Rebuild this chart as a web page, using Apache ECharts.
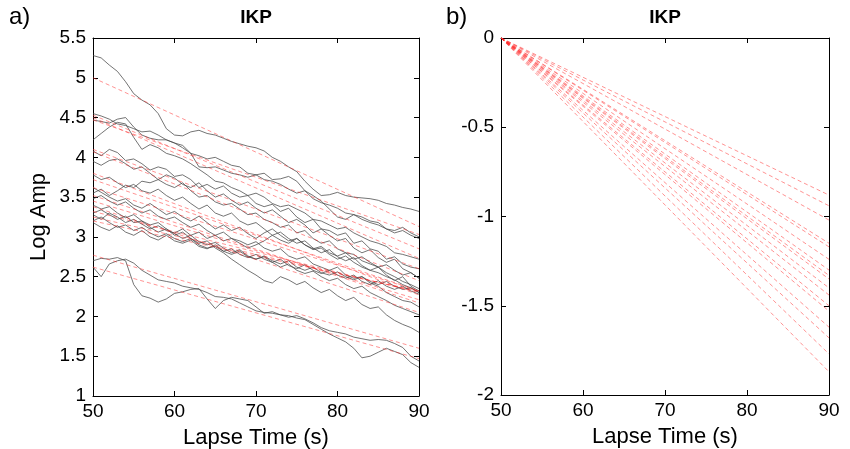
<!DOCTYPE html>
<html>
<head>
<meta charset="utf-8">
<script src="https://cdn.jsdelivr.net/npm/echarts@6/dist/echarts.min.js"></script>
<style>
html,body{margin:0;padding:0;background:#fff;}
#c{width:850px;height:449px;}
</style>
</head>
<body>
<div id="c"></div>
<script>
// Lapse time samples (s)
const times = [50,51,52,53,54,55,56,57,58,59,60,61,62,63,64,65,66,67,68,69,70,71,72,73,74,75,76,77,78,79,80,81,82,83,84,85,86,87,88,89,90];

// Observed log-amplitude traces (black), one value per second
const trace1 = [5.28,5.25,5.16,5.08,4.95,4.80,4.72,4.66,4.55,4.36, 4.28,4.27,4.32,4.34,4.30,4.28,4.24,4.20,4.17,4.14, 4.12,4.08,4.00,3.95,3.88,3.82,3.70,3.60,3.52,3.53, 3.56,3.52,3.50,3.49,3.48,3.46,3.42,3.40,3.37,3.35, 3.32];
const trace2 = [4.47,4.45,4.43,4.48,4.50,4.38,4.28,4.24,4.22,4.22, 4.18,4.15,4.05,3.88,3.87,3.88,3.84,3.80,3.78,3.75, 3.78,3.80,3.72,3.73,3.76,3.70,3.58,3.48,3.43,3.40, 3.36,3.30,3.28,3.22,3.18,3.15,3.10,3.05,3.08,3.02, 2.98];
const trace3 = [4.22,4.30,4.38,4.44,4.42,4.25,4.10,4.16,4.12,4.05, 4.02,3.98,3.92,3.85,3.78,3.70,3.68,3.62,3.58,3.52, 3.55,3.50,3.42,3.38,3.40,3.35,3.30,3.22,3.20,3.15, 3.10,3.12,3.05,3.00,2.95,2.92,2.88,2.80,2.78,2.75, 2.72];
const trace4 = [4.55,4.52,4.48,4.42,4.40,4.36,4.32,4.33,4.28,4.22, 4.18,4.12,4.05,4.02,3.98,4.00,3.95,3.90,3.88,3.80, 3.78,3.72,3.70,3.66,3.60,3.55,3.58,3.52,3.45,3.35, 3.25,3.22,3.28,3.25,3.20,3.18,3.10,3.08,3.12,3.05, 3.00];
const trace5 = [4.08,4.02,4.10,4.06,3.96,3.98,3.92,3.84,3.88,3.85, 3.76,3.78,3.72,3.62,3.66,3.60,3.64,3.55,3.50,3.52, 3.42,3.38,3.41,3.32,3.36,3.25,3.18,3.22,3.10,3.08, 3.02,3.05,2.92,2.95,2.85,2.82,2.72,2.75,2.66,2.62, 2.60];
const trace6 = [3.95,3.90,3.96,3.98,3.92,3.85,3.88,3.80,3.72,3.78, 3.74,3.66,3.62,3.68,3.58,3.50,3.54,3.46,3.40,3.44, 3.36,3.30,3.34,3.26,3.18,3.22,3.15,3.05,3.10,3.02, 2.95,2.98,2.86,2.80,2.84,2.74,2.68,2.72,2.60,2.55, 2.48];
const trace7 = [3.78,3.72,3.75,3.68,3.62,3.66,3.58,3.55,3.60,3.52, 3.46,3.50,3.42,3.35,3.40,3.30,3.26,3.30,3.20,3.15, 3.18,3.10,3.02,3.06,2.98,2.92,2.95,2.86,2.80,2.84, 2.75,2.70,2.74,2.64,2.58,2.62,2.52,2.45,2.50,2.38, 2.32];
const trace8 = [3.55,3.60,3.52,3.58,3.65,3.62,3.70,3.68,3.72,3.66, 3.62,3.68,3.58,3.50,3.52,3.44,3.40,3.42,3.35,3.28, 3.30,3.22,3.18,3.12,3.15,3.05,3.08,2.98,2.92,2.95, 2.85,2.80,2.78,2.70,2.66,2.62,2.55,2.50,2.44,2.40, 2.35];
const trace9 = [3.62,3.56,3.50,3.45,3.48,3.40,3.36,3.42,3.35,3.28, 3.32,3.25,3.20,3.26,3.18,3.10,3.15,3.08,3.12,3.04, 2.98,3.05,3.10,3.02,2.95,2.98,2.90,2.84,2.86,2.78, 2.72,2.76,2.68,2.62,2.58,2.55,2.50,2.46,2.40,2.36, 2.30];
const trace10 = [3.48,3.52,3.45,3.40,3.44,3.36,3.30,3.34,3.26,3.22, 3.25,3.18,3.12,3.16,3.08,3.02,3.06,2.98,2.95,2.90, 2.94,2.86,2.82,2.85,2.76,2.72,2.75,2.66,2.62,2.58, 2.62,2.52,2.48,2.50,2.42,2.38,2.30,2.25,2.20,2.18, 2.12];
const trace11 = [3.40,3.35,3.38,3.30,3.24,3.28,3.20,3.15,3.18,3.10, 3.02,3.06,2.98,2.92,2.95,2.86,2.80,2.72,2.65,2.58, 2.52,2.45,2.42,2.50,2.46,2.40,2.44,2.36,2.30,2.34, 2.26,2.20,2.24,2.15,2.10,2.12,2.02,1.95,1.90,1.86, 1.80];
const trace12 = [3.30,3.34,3.28,3.22,3.26,3.18,3.20,3.12,3.06,3.10, 3.04,2.98,3.02,2.94,2.90,2.93,2.86,2.80,2.84,2.76, 2.72,2.75,2.68,2.62,2.66,2.58,2.54,2.57,2.50,2.45, 2.48,2.40,2.35,2.38,2.30,2.25,2.20,2.14,2.10,2.06, 2.02];
const trace13 = [3.28,3.22,3.30,3.25,3.18,3.22,3.16,3.10,3.14,3.08, 3.05,3.10,3.02,3.06,2.98,3.02,2.95,2.98,2.92,2.86, 2.90,2.95,3.02,2.96,2.92,2.98,2.90,2.85,2.88,2.80, 2.76,2.80,2.72,2.75,2.68,2.62,2.65,2.58,2.52,2.55, 2.48];
const trace14 = [3.20,3.25,3.18,3.12,3.15,3.08,3.12,3.05,3.00,3.04, 2.98,2.94,2.98,2.90,2.86,2.88,2.82,2.85,2.78,2.74, 2.78,2.72,2.68,2.72,2.64,2.60,2.65,2.58,2.54,2.58, 2.52,2.48,2.52,2.44,2.40,2.45,2.38,2.34,2.38,2.32, 2.28];
const trace15 = [3.18,3.12,3.08,3.14,3.06,3.02,3.08,3.00,2.96,3.02, 2.95,2.92,2.96,2.88,2.85,2.90,2.82,2.78,2.82,2.75, 2.72,2.76,2.70,2.66,2.70,2.62,2.58,2.62,2.55,2.52, 2.56,2.50,2.46,2.50,2.44,2.40,2.44,2.38,2.34,2.36, 2.30];
const trace16 = [2.70,2.73,2.72,2.74,2.70,2.40,2.26,2.23,2.18,2.22, 2.29,2.31,2.34,2.35,2.22,2.10,2.20,2.24,2.22,2.20, 2.12,2.04,2.06,2.02,1.99,2.01,1.97,1.92,1.86,1.82, 1.80,1.78,1.74,1.72,1.70,1.71,1.70,1.66,1.61,1.50, 1.44];
const trace17 = [2.62,2.50,2.66,2.70,2.72,2.67,2.58,2.52,2.46,2.44, 2.42,2.38,2.36,2.34,2.30,2.25,2.24,2.22,2.17,2.12, 2.07,2.05,2.04,2.02,2.01,1.98,1.96,1.90,1.84,1.78, 1.73,1.68,1.60,1.48,1.50,1.55,1.60,1.56,1.52,1.42, 1.36];
const traces = [trace1,trace2,trace3,trace4,trace5,trace6,trace7,trace8,trace9,trace10,trace11,trace12,trace13,trace14,trace15,trace16,trace17];

// Linear fits (red dashed): value at 50 s and total drop over 50-90 s
const fitStart = [5.00,4.53,4.50,4.47,4.10,4.07,3.80,3.72,3.62,3.52,3.45,3.38,3.32,3.25,3.20,2.77,2.62];
const fitDrop  = [1.87,1.68,1.77,1.44,1.50,1.62,1.53,1.40,1.30,1.35,1.24,1.33,1.02,0.94,0.88,1.17,1.15];

// Axis ticks
const xTicks = {min:50, max:90, interval:10};
const yTicksA = {min:1, max:5.5, interval:0.5};
const yTicksB = {min:-2, max:0, interval:0.5};

const FONT = 'Liberation Sans, Arial, Helvetica, sans-serif';
const chart = echarts.init(document.getElementById('c'), null, {renderer:'canvas'});

const gridA = {left:93, right:431, top:38, bottom:53, containLabel:false, outerBoundsMode:'none'};
const gridB = {left:501, right:21, top:38, bottom:54, containLabel:false, outerBoundsMode:'none'};

function xAx(grid, pos, showLabel) {
  return {
    type:'value', gridIndex:grid, position:pos, min:xTicks.min, max:xTicks.max, interval:xTicks.interval,
    axisLine:{show:true, onZero:false, lineStyle:{color:'#000', width:1}},
    axisTick:{show:true, inside:true, length:5, lineStyle:{color:'#000'}},
    axisLabel:{show:showLabel, color:'#000', fontSize:19, fontFamily:FONT, margin:6},
    splitLine:{show:false},
    name: showLabel ? 'Lapse Time (s)' : '', nameLocation:'middle', nameGap:31,
    nameTextStyle:{color:'#000', fontSize:22, fontFamily:FONT}
  };
}
function yAx(grid, pos, t, showLabel, name) {
  return {
    type:'value', gridIndex:grid, position:pos, min:t.min, max:t.max, interval:t.interval,
    axisLine:{show:true, onZero:false, lineStyle:{color:'#000', width:1}},
    axisTick:{show:true, inside:true, length:5, lineStyle:{color:'#000'}},
    axisLabel:{show:showLabel, color:'#000', fontSize:19, fontFamily:FONT, margin:7},
    splitLine:{show:false},
    name: name || '', nameLocation:'middle', nameGap:43,
    nameTextStyle:{color:'#000', fontSize:22, fontFamily:FONT}
  };
}

const series = [];
traces.forEach((tr) => {
  series.push({
    type:'line', xAxisIndex:0, yAxisIndex:0, showSymbol:false, silent:true,
    data: times.map((t,i) => [t, tr[i]]),
    lineStyle:{color:'rgba(70,70,70,0.75)', width:1}, z:2
  });
});
fitStart.forEach((a,i) => {
  series.push({
    type:'line', xAxisIndex:0, yAxisIndex:0, showSymbol:false, silent:true,
    data: [[xTicks.min, a],[xTicks.max, a - fitDrop[i]]],
    lineStyle:{color:'rgba(255,40,40,0.5)', width:1, type:[4,3]}, z:3
  });
  series.push({
    type:'line', xAxisIndex:2, yAxisIndex:2, showSymbol:false, silent:true,
    data: [[xTicks.min, 0],[xTicks.max, -fitDrop[i]]],
    lineStyle:{color:'rgba(255,40,40,0.5)', width:1, type:[4,3]}, z:3
  });
});

chart.setOption({
  animation:false,
  backgroundColor:'#fff',
  grid:[gridA, gridB],
  xAxis:[xAx(0,'bottom',true), xAx(0,'top',false), xAx(1,'bottom',true), xAx(1,'top',false)],
  yAxis:[yAx(0,'left',yTicksA,true,'Log Amp'), yAx(0,'right',yTicksA,false), yAx(1,'left',yTicksB,true), yAx(1,'right',yTicksB,false)],
  series: series,
  graphic:[
    {type:'text', left:9, top:5, style:{text:'a)', font:'24px '+FONT, fill:'#000'}},
    {type:'text', left:446, top:5, style:{text:'b)', font:'24px '+FONT, fill:'#000'}},
    {type:'text', x:256, y:8, style:{text:'IKP', font:'bold 19px '+FONT, fill:'#000', textAlign:'center'}},
    {type:'text', x:665, y:8, style:{text:'IKP', font:'bold 19px '+FONT, fill:'#000', textAlign:'center'}}
  ]
});
</script>
</body>
</html>
